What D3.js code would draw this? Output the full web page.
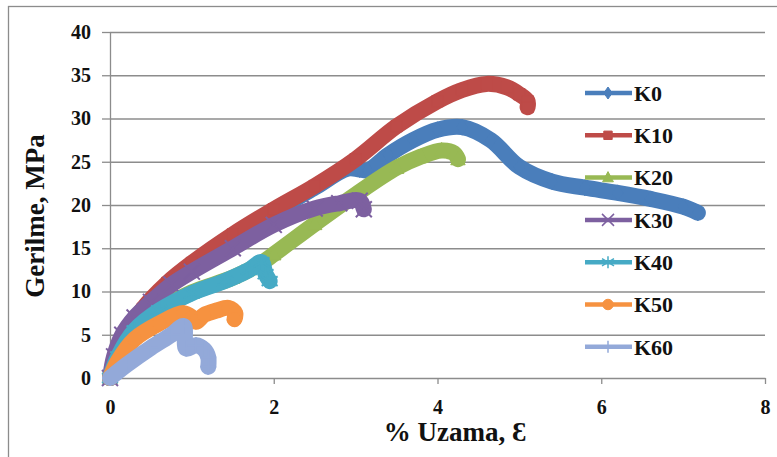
<!DOCTYPE html>
<html lang="tr">
<head>
  <meta charset="UTF-8">
  <title>Gerilme - Uzama</title>
  <script src="https://d3js.org/d3.v7.min.js"></script>
  <style>
    body { margin: 0; background: #fff; }
    svg text { font-family: "Liberation Serif", "Times New Roman", serif; font-weight: bold; fill: #111; }
    .grid line { stroke: #8c8c8c; stroke-width: 1.3; }
    .grid path { display: none; }
    .axis path, .axis line { stroke: #8c8c8c; stroke-width: 1.3; }
    .axis text { font-size: 20px; }
  </style>
</head>
<body>
  <svg id="chart" width="777" height="457"></svg>
  <script>
    // 1. data
    const seriesNames = ["K0", "K10", "K20", "K30", "K40", "K50", "K60"];
    const colors = ["#4a7ebb", "#be4b48", "#98b954", "#7d60a0", "#46aac5", "#f69240", "#93a9d9"];
    const markers = ["diamond", "square", "triangle", "x", "asterisk", "circle", "plus"];

    const k0x  = [0, 0.3, 0.6, 1.0, 1.5, 2.0, 2.5, 2.9, 3.05, 3.15, 3.4, 3.7, 4.0, 4.3, 4.65, 5.0, 5.4, 5.8, 6.2, 6.6, 7.0, 7.18];
    const k0y  = [0, 5.5, 9.5, 12.8, 16.2, 19.2, 22.0, 24.2, 24.1, 24.0, 25.8, 27.5, 28.7, 29.0, 27.5, 24.4, 22.7, 22.0, 21.4, 20.7, 19.8, 19.1];
    const k10x = [0, 0.15, 0.4, 0.7, 1.0, 1.5, 2.0, 2.5, 3.0, 3.5, 4.0, 4.3, 4.6, 4.85, 5.0, 5.1, 5.1];
    const k10y = [0, 4, 8, 11, 13.3, 16.6, 19.5, 22.2, 25.3, 29.1, 32, 33.3, 34, 33.6, 32.8, 32, 31.3];
    const k20x = [0, 0.3, 0.6, 1.0, 1.5, 1.85, 2.0, 2.5, 3.0, 3.5, 3.8, 4.05, 4.2, 4.25];
    const k20y = [0, 5.5, 7.8, 9.9, 11.6, 13.3, 14.3, 17.8, 21.2, 24.3, 25.6, 26.3, 26.0, 25.3];
    const k30x = [0, 0.05, 0.15, 0.3, 0.5, 0.75, 1.0, 1.5, 2.0, 2.5, 2.8, 3.05, 3.1];
    const k30y = [0, 2.5, 5, 7, 8.8, 10.8, 12.3, 15, 17.7, 19.6, 20.2, 20.5, 19.5];
    const k40x = [0, 0.1, 0.3, 0.6, 1.0, 1.4, 1.7, 1.85, 1.9, 1.95];
    const k40y = [0, 2.5, 5.5, 7.8, 9.8, 11.2, 12.5, 13.4, 12, 11.2];
    const k50x = [0, 0.1, 0.3, 0.6, 0.9, 1.0, 1.05, 1.15, 1.3, 1.45, 1.53, 1.52];
    const k50y = [0, 2, 4.5, 6.3, 7.5, 7.0, 6.5, 7.3, 7.8, 8.1, 7.5, 6.8];
    const k60x = [0, 0.2, 0.5, 0.75, 0.9, 0.93, 1.05, 1.15, 1.2, 1.2];
    const k60y = [0, 1.5, 3.5, 5, 6, 3.4, 3.8, 3.3, 2.4, 1.3];

    const xs = [k0x, k10x, k20x, k30x, k40x, k50x, k60x];
    const ys = [k0y, k10y, k20y, k30y, k40y, k50y, k60y];

    const xTicks = [0, 2, 4, 6, 8];
    const yTicks = [0, 5, 10, 15, 20, 25, 30, 35, 40];

    const series = seriesNames.map((name, i) => ({
      name, color: colors[i], marker: markers[i],
      points: xs[i].map((x, j) => ({ x, y: ys[i][j] }))
    }));

    // 2. svg & scales
    const svg = d3.select("#chart");
    const pLeft = 110, pRight = 765, pTop = 32, pBottom = 378;

    const x = d3.scaleLinear().domain([0, 8]).range([pLeft, pRight]);
    const y = d3.scaleLinear().domain([0, 40]).range([pBottom, pTop]);

    // outer frame
    svg.append("rect")
      .attr("x", 8.5).attr("y", 6.5)
      .attr("width", 800).attr("height", 480)
      .attr("fill", "none").attr("stroke", "#8c8c8c").attr("stroke-width", 1.3);

    // 3. grid & axes
    svg.append("g")
      .attr("class", "grid")
      .attr("transform", `translate(${pLeft},0)`)
      .call(d3.axisLeft(y).tickValues(yTicks.slice(1)).tickSize(-(pRight - pLeft)).tickFormat(""));

    svg.append("g")
      .attr("class", "axis")
      .attr("transform", `translate(${pLeft},0)`)
      .call(d3.axisLeft(y).tickValues(yTicks).tickSize(8).tickPadding(11).tickSizeOuter(0));

    svg.append("g")
      .attr("class", "axis")
      .attr("transform", `translate(0,${pBottom})`)
      .call(d3.axisBottom(x).tickValues(xTicks).tickSize(6).tickPadding(16).tickSizeOuter(0));

    // 4. markers
    function symbolFor(kind, s) {
      switch (kind) {
        case "diamond": return `M0,${-s}L${s * 0.7},0L0,${s}L${-s * 0.7},0Z`;
        case "square": return `M${-s * 0.7},${-s * 0.7}h${s * 1.4}v${s * 1.4}h${-s * 1.4}Z`;
        case "triangle": return `M0,${-s}L${s * 0.9},${s * 0.7}L${-s * 0.9},${s * 0.7}Z`;
        case "circle": return d3.symbol(d3.symbolCircle, s * s * 2.4)();
        case "x": return `M${-s},${-s}L${s},${s}M${s},${-s}L${-s},${s}`;
        case "plus": return `M0,${-s}L0,${s}M${-s},0L${s},0`;
        case "asterisk": return `M0,${-s}L0,${s}M${-s},${-s * 0.6}L${s},${s * 0.6}M${s},${-s * 0.6}L${-s},${s * 0.6}`;
      }
    }
    const filled = k => ["diamond", "square", "triangle", "circle"].includes(k);

    // 5. curves (thick bands, like dense Excel markers)
    const line = d3.line().x(d => x(d.x)).y(d => y(d.y)).curve(d3.curveCatmullRom.alpha(0.5));

    const gs = svg.append("g").attr("class", "series");
    series.forEach(s => {
      gs.append("path")
        .datum(s.points)
        .attr("d", line)
        .attr("fill", "none")
        .attr("stroke", s.color)
        .attr("stroke-width", 16)
        .attr("stroke-linejoin", "round")
        .attr("stroke-linecap", "round");

      gs.selectAll(null)
        .data(s.points)
        .enter().append("path")
        .attr("transform", d => `translate(${x(d.x)},${y(d.y)})`)
        .attr("d", symbolFor(s.marker, 8))
        .attr("fill", filled(s.marker) ? s.color : "none")
        .attr("stroke", s.color)
        .attr("stroke-width", filled(s.marker) ? 1 : 2);
    });

    // 6. legend
    const legend = svg.append("g").attr("class", "legend");
    series.forEach((s, i) => {
      const ly = 93 + i * 42.3;
      legend.append("line")
        .attr("x1", 585).attr("x2", 632).attr("y1", ly).attr("y2", ly)
        .attr("stroke", s.color).attr("stroke-width", 4.5);
      legend.append("path")
        .attr("transform", `translate(608,${ly})`)
        .attr("d", symbolFor(s.marker, 6))
        .attr("fill", filled(s.marker) ? s.color : "none")
        .attr("stroke", s.color)
        .attr("stroke-width", filled(s.marker) ? 1 : 1.5);
      legend.append("text")
        .attr("x", 634).attr("y", ly)
        .attr("dy", "0.35em")
        .style("font-size", "22px")
        .text(s.name);
    });

    // 7. axis titles
    svg.append("text")
      .attr("transform", "translate(44,216) rotate(-90)")
      .attr("text-anchor", "middle")
      .style("font-size", "27px")
      .text("Gerilme, MPa");

    svg.append("text")
      .attr("x", 455).attr("y", 441)
      .attr("text-anchor", "middle")
      .style("font-size", "27px")
      .text("% Uzama,  Ɛ");
  </script>
</body>
</html>
